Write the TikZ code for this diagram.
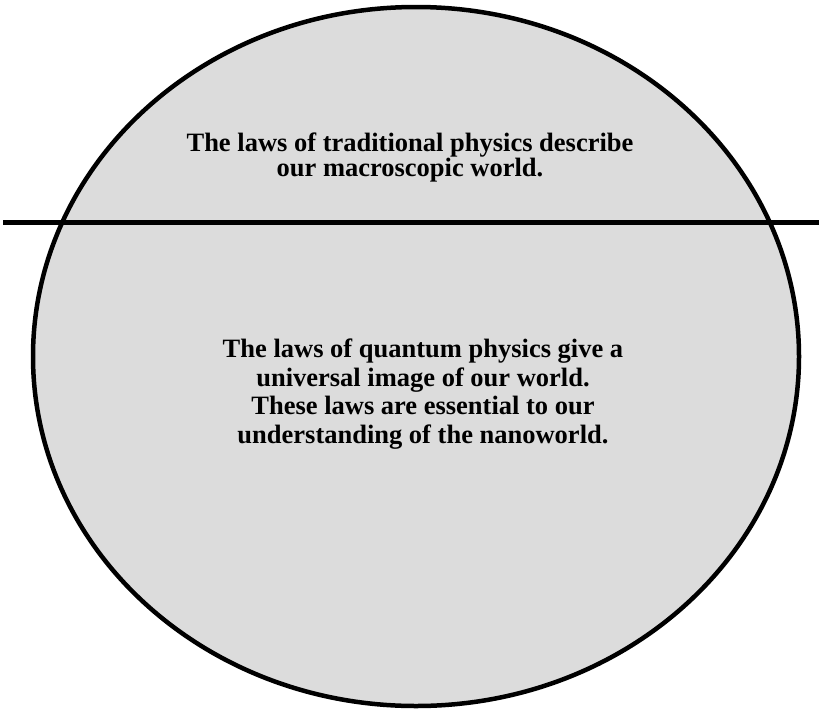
\documentclass[tikz,border=0pt]{standalone}
\usepackage{fontspec}
\usetikzlibrary{shapes.geometric}
\setmainfont{Liberation Serif}
\definecolor{fillgray}{RGB}{220,220,220}
\begin{document}
\begin{tikzpicture}[x=1pt,y=-1pt,
  lbl/.style={align=center,font=\bfseries,inner sep=0pt}]
\useasboundingbox (0,0) rectangle (819,710);
\node[draw=black,line width=4.5pt,fill=fillgray,ellipse,minimum width=766pt,minimum height=699pt,inner sep=0pt] (e) at (416,356.5) {};
\coordinate (l) at (3,222);
\coordinate (r) at (819,222);
\draw[line width=5pt] (l) -- (r);
\node[lbl,font=\bfseries\fontsize{26.5}{25}\selectfont] (t1) at (410,157.5) {The laws of traditional physics describe\\our macroscopic world.};
\node[lbl,font=\bfseries\fontsize{26.5}{28.5}\selectfont] (t2) at (423,394) {The laws of quantum physics give a\\universal image of our world.\\These laws are essential to our\\understanding of the nanoworld.};
\end{tikzpicture}
\end{document}
